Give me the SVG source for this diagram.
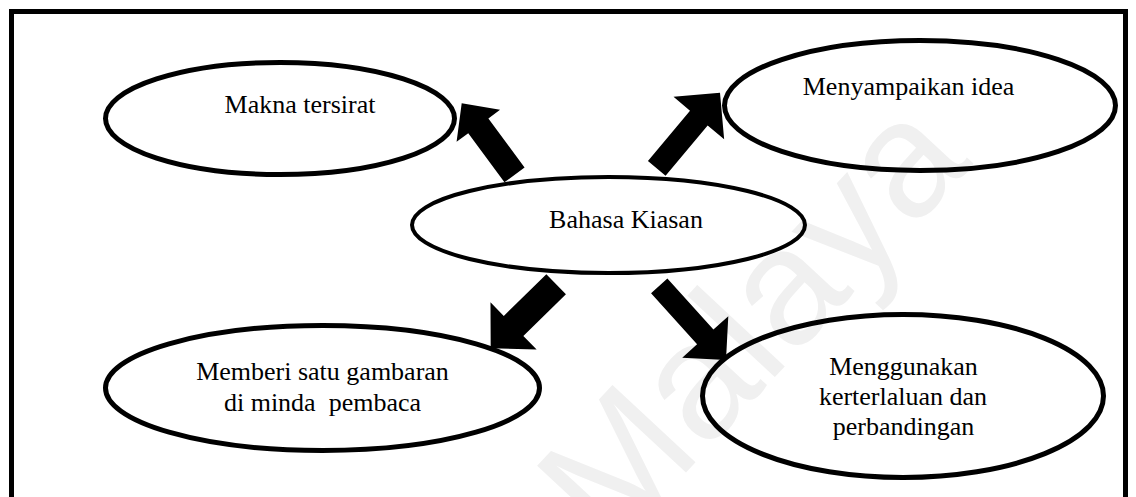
<svg xmlns="http://www.w3.org/2000/svg" width="1136" height="497" viewBox="0 0 1136 497">
  <style>
    .node ellipse { fill: none; stroke: #000000; stroke-width: 5; }
    .node text { font-family: "Liberation Serif", "Times New Roman", serif; font-size: 26px; fill: #000000; text-anchor: middle; white-space: pre; }
    .arrow { fill: #000000; stroke: none; }
    .mark { font-family: "Liberation Sans", Arial, sans-serif; font-size: 165px; fill: #f0f0f0; }
  </style>
  <rect x="0" y="0" width="1136" height="497" fill="#ffffff"/>

  <!-- faint background lettering -->
  <text class="mark" transform="translate(611,553) rotate(-47)">Malaya</text>

  <!-- outer frame -->
  <rect x="11.5" y="11.5" width="1114" height="520" fill="none" stroke="#000000" stroke-width="5"/>

  <g id="connectors">
    <!-- block arrows: tip at origin, pointing along +x -->
    <path class="arrow" transform="translate(461.7,103.3) rotate(-126.4)" d="M0,0 L-28,-27 L-28,-12.5 L-89,-12.5 L-89,12.5 L-28,12.5 L-28,27 Z"/>
    <path class="arrow" transform="translate(720,92.7) rotate(-50.1)" d="M0,0 L-33,-33 L-33,-11.5 L-98.6,-11.5 L-98.6,11.5 L-33,11.5 L-33,33 Z"/>
    <path class="arrow" transform="translate(490.7,348.3) rotate(135.6)" d="M0,0 L-32,-33 L-32,-14 L-91.6,-14 L-91.6,14 L-32,14 L-32,33 Z"/>
    <path class="arrow" transform="translate(726,360) rotate(48)" d="M0,0 L-31,-31 L-31,-11 L-99.8,-11 L-99.8,11 L-31,11 L-31,31 Z"/>
  </g>

  <g id="node-makna" class="node">
    <ellipse cx="280" cy="118.5" rx="174.5" ry="56"/>
    <text x="300" y="113">Makna tersirat</text>
  </g>

  <g id="node-menyampaikan" class="node">
    <ellipse cx="920" cy="105.5" rx="195.5" ry="65"/>
    <text x="908.5" y="95">Menyampaikan idea</text>
  </g>

  <g id="node-bahasa" class="node">
    <ellipse cx="608.5" cy="225" rx="196.5" ry="48" style="stroke-width:4"/>
    <text x="626" y="228">Bahasa Kiasan</text>
  </g>

  <g id="node-memberi" class="node">
    <ellipse cx="322.5" cy="388" rx="217" ry="62.5"/>
    <text x="322.5" y="380">Memberi satu gambaran</text>
    <text x="322.5" y="410.5">di minda  pembaca</text>
  </g>

  <g id="node-menggunakan" class="node">
    <ellipse cx="903" cy="396" rx="200.5" ry="81.5"/>
    <text x="903.5" y="375">Menggunakan</text>
    <text x="903" y="405">kerterlaluan dan</text>
    <text x="903.5" y="435">perbandingan</text>
  </g>
</svg>
